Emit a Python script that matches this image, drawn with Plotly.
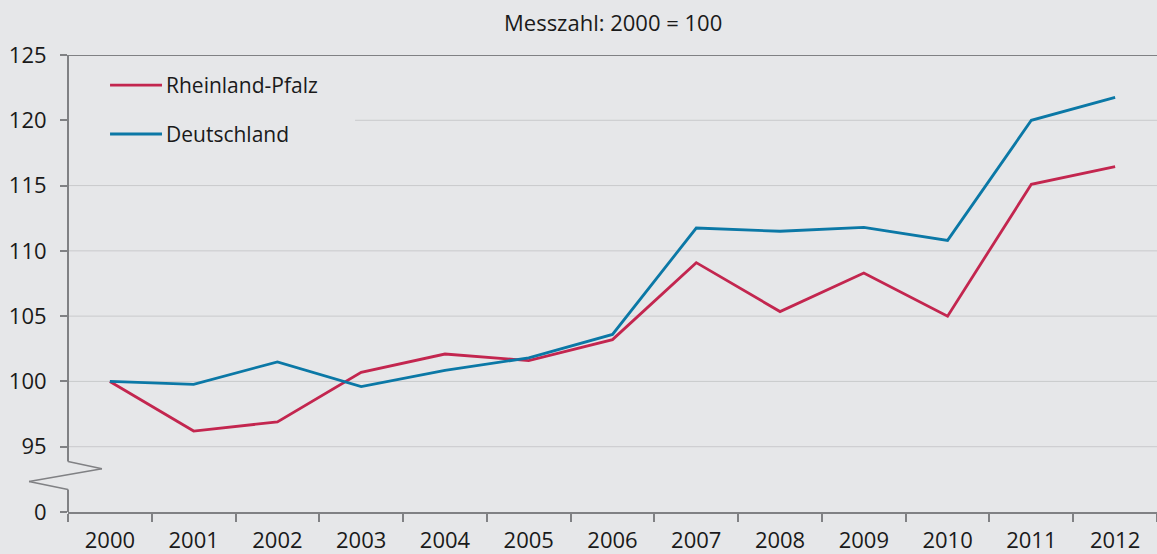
import plotly.graph_objects as go

years = [str(y) for y in range(2000, 2013)]
rlp = [100, 96.2, 96.9, 100.7, 102.1, 101.6, 103.2, 109.1, 105.35, 108.3, 105.0, 115.1, 116.45]
de = [100, 99.77, 101.5, 99.6, 100.85, 101.8, 103.6, 111.75, 111.5, 111.8, 110.8, 120.0, 121.75]
y_tickvals = [90, 95, 100, 105, 110, 115, 120, 125]
y_ticktext = ["0", "95", "100", "105", "110", "115", "120", "125"]
grid_vals = [95, 100, 105, 110, 115, 120]
series_names = ["Rheinland-Pfalz", "Deutschland"]
title_text = "Messzahl: 2000 = 100"

RED = "#C3264F"
BLUE = "#0B78A6"
BG = "#E6E7E9"
AX = "#808184"
GRID = "#C9CACC"
TXT = "#1A1A1A"
FONT = "Open Sans"
FS = 21
FS_NUM = 22
LW = 2.8

fig = go.Figure()
fig.add_trace(go.Scatter(x=years, y=rlp, mode="lines", name=series_names[0],
                         line=dict(color=RED, width=LW), showlegend=False))
fig.add_trace(go.Scatter(x=years, y=de, mode="lines", name=series_names[1],
                         line=dict(color=BLUE, width=LW), showlegend=False))

fig.update_layout(
    width=1157, height=554,
    margin=dict(l=68, r=0, t=55, b=42, autoexpand=False),
    paper_bgcolor=BG, plot_bgcolor=BG,
    font=dict(family=FONT, size=FS, color=TXT),
    showlegend=False,
)
fig.update_xaxes(
    type="category", range=[-0.5, 12.5], automargin=False,
    showgrid=False, showline=True, linecolor=AX, linewidth=2,
    ticks="outside", tickson="boundaries", ticklen=8, tickwidth=1.5, tickcolor=AX,
    ticklabelstandoff=8, zeroline=False,
    tickfont=dict(family=FONT, size=FS_NUM, color=TXT),
)
fig.update_yaxes(
    range=[90, 125], tickmode="array", tickvals=y_tickvals, ticktext=y_ticktext,
    automargin=False, showgrid=False,
    showline=False, ticks="outside", ticklen=7, tickwidth=1.5, tickcolor=AX,
    ticklabelstandoff=9, zeroline=False,
    tickfont=dict(family=FONT, size=FS_NUM, color=TXT),
)

shapes = []
for g in grid_vals:
    x0 = 0.2636 if g == 120 else 0
    shapes.append(dict(type="line", xref="x domain", yref="y", x0=x0, x1=1, y0=g, y1=g,
                       line=dict(color=GRID, width=1), layer="below"))
# top border line at 125
shapes.append(dict(type="line", xref="x domain", yref="y", x0=0, x1=1, y0=125, y1=125,
                   line=dict(color=AX, width=2), layer="above"))
# y axis line with break
shapes.append(dict(type="line", xref="x domain", yref="y", x0=0, x1=0, y0=125, y1=93.86,
                   line=dict(color=AX, width=2), layer="above"))
shapes.append(dict(type="line", xref="x domain", yref="y", x0=0, x1=0, y0=91.72, y1=90,
                   line=dict(color=AX, width=2), layer="above"))
shapes.append(dict(type="line", xref="x domain", yref="y", x0=0, x1=0.0312, y0=93.86, y1=93.32,
                   line=dict(color=AX, width=1.5), layer="above"))
shapes.append(dict(type="line", xref="x domain", yref="y", x0=0.0312, x1=-0.0358, y0=93.32, y1=92.33,
                   line=dict(color=AX, width=1.5), layer="above"))
shapes.append(dict(type="line", xref="x domain", yref="y", x0=-0.0358, x1=0, y0=92.33, y1=91.72,
                   line=dict(color=AX, width=1.5), layer="above"))
# manual legend lines
shapes.append(dict(type="line", xref="x domain", yref="y", x0=0.0386, x1=0.0863, y0=122.7, y1=122.7,
                   line=dict(color=RED, width=LW), layer="above"))
shapes.append(dict(type="line", xref="x domain", yref="y", x0=0.0386, x1=0.0863, y0=118.95, y1=118.95,
                   line=dict(color=BLUE, width=LW), layer="above"))
fig.update_layout(shapes=shapes)

annotations = [
    dict(text=series_names[0], xref="x domain", yref="y", x=0.0878, y=122.7, xanchor="left", yanchor="middle",
         showarrow=False, font=dict(family=FONT, size=FS, color=TXT)),
    dict(text=series_names[1], xref="x domain", yref="y", x=0.0878, y=118.95, xanchor="left", yanchor="middle",
         showarrow=False, font=dict(family=FONT, size=FS, color=TXT)),
    dict(text=title_text, xref="paper", yref="paper", x=0.5, y=1, yshift=33, xanchor="center", yanchor="middle",
         showarrow=False, font=dict(family=FONT, size=FS_NUM, color=TXT)),
]
fig.update_layout(annotations=annotations)

fig.write_html("out.html", config={"displayModeBar": False},
               post_script="document.body.style.margin='0';document.body.style.overflow='hidden';document.body.style.background='#E6E7E9';")
